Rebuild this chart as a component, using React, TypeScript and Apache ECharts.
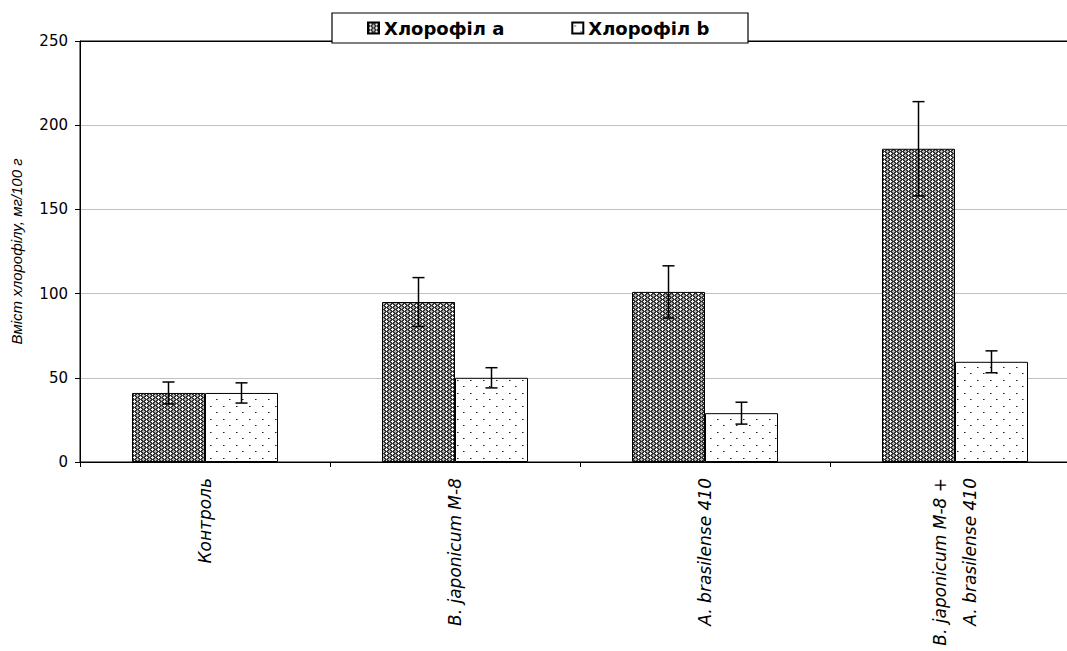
import React, { useEffect, useRef } from 'react';
import * as echarts from 'echarts';

const categories = [
  'Контроль',
  'B. japonicum M-8',
  'A. brasilense 410',
  'B. japonicum M-8 +\nA. brasilense 410',
];
const seriesNames = ['Хлорофіл а', 'Хлорофіл b'];
const chlA = [41, 95, 101, 186];
const chlB = [41, 50, 29, 59.5];
const errA = [6.5, 14.5, 15.5, 28];
const errB = [6, 6, 6.5, 6.5];
const yAxisName = 'Вміст хлорофілу, мг/100 г';

const BAR_FRAC = 0.292;

function makePatternA(): HTMLCanvasElement {
  const c = document.createElement('canvas');
  c.width = 6;
  c.height = 4;
  const g = c.getContext('2d')!;
  g.fillStyle = '#333333';
  g.fillRect(0, 0, 6, 4);
  g.fillStyle = '#f4f4f4';
  [[2, 0], [1, 1], [2, 1], [3, 1], [2, 2]].forEach(([x, y]) => g.fillRect(x, y, 1, 1));
  g.fillStyle = '#b8b8b8';
  [[5, 2], [4, 3], [5, 3], [0, 3], [5, 0]].forEach(([x, y]) => g.fillRect(x, y, 1, 1));
  return c;
}

function makePatternB(): HTMLCanvasElement {
  const c = document.createElement('canvas');
  c.width = 13;
  c.height = 13;
  const g = c.getContext('2d')!;
  g.fillStyle = '#ffffff';
  g.fillRect(0, 0, 13, 13);
  g.fillStyle = '#222222';
  g.fillRect(2, 3, 1, 1);
  g.fillRect(8, 9, 1, 1);
  g.fillStyle = '#888888';
  g.fillRect(3, 3, 1, 1);
  g.fillRect(9, 9, 1, 1);
  return c;
}

export default function App() {
  const ref = useRef<HTMLDivElement>(null);

  useEffect(() => {
    if (!ref.current) return;
    const chart = echarts.init(ref.current, null, { renderer: 'svg' });
    const pa = makePatternA();
    const pb = makePatternB();
    const colorA: any = { image: pa, repeat: 'repeat', imageWidth: 6, imageHeight: 4 };
    const colorB: any = { image: pb, repeat: 'repeat', imageWidth: 13, imageHeight: 13 };

    const errData: number[][] = [];
    chlA.forEach((v, i) => errData.push([i, v - errA[i], v + errA[i], 0]));
    chlB.forEach((v, i) => errData.push([i, v - errB[i], v + errB[i], 1]));

    const option: any = {
      animation: false,
      backgroundColor: '#ffffff',
      grid: {
        left: 80,
        top: 41,
        width: 1000,
        height: 421,
        outerBoundsMode: 'none',
        containLabel: false,
        show: true,
        borderColor: '#000',
        borderWidth: 1,
        backgroundColor: 'transparent',
      },
      graphic: [
        {
          type: 'rect',
          z: 3,
          shape: { x: 332, y: 13, width: 416, height: 30 },
          style: { fill: '#ffffff', stroke: '#000000', lineWidth: 1.2 },
        },
      ],
      legend: {
        data: seriesNames,
        left: 367,
        top: 19,
        z: 5,
        padding: 0,
        icon: 'rect',
        itemWidth: 11,
        itemHeight: 11,
        itemGap: 67,
        textStyle: {
          fontFamily: 'DejaVu Sans',
          fontWeight: 'bold',
          fontSize: 18,
          color: '#000',
        },
      },
      xAxis: {
        type: 'category',
        data: categories,
        axisLine: { lineStyle: { color: '#000', width: 1 } },
        axisTick: { show: true, length: 5, lineStyle: { color: '#000' } },
        axisLabel: {
          rotate: 90,
          margin: 16,
          color: '#000',
          fontFamily: 'DejaVu Sans',
          fontStyle: 'italic',
          fontSize: 17,
          lineHeight: 30,
          interval: 0,
        },
        splitLine: { show: false },
      },
      yAxis: {
        type: 'value',
        min: 0,
        max: 250,
        interval: 50,
        name: yAxisName,
        nameLocation: 'middle',
        nameGap: 56,
        nameTextStyle: {
          fontFamily: 'Liberation Sans',
          fontStyle: 'italic',
          fontSize: 15,
          color: '#000',
        },
        axisLine: { show: true, lineStyle: { color: '#000', width: 1 } },
        axisTick: { show: true, length: 5, lineStyle: { color: '#000' } },
        axisLabel: {
          margin: 12,
          color: '#000',
          fontFamily: 'DejaVu Sans',
          fontSize: 15,
        },
        splitLine: {
          show: true,
          lineStyle: {
            color: ['#c0c0c0', '#c0c0c0', '#c0c0c0', '#c0c0c0', '#c0c0c0', '#000000'],
            width: 1,
          },
        },
      },
      series: [
        {
          name: seriesNames[0],
          type: 'bar',
          data: chlA,
          barWidth: BAR_FRAC * 100 + '%',
          barGap: '0%',
          itemStyle: { color: colorA, borderColor: '#000', borderWidth: 1 },
        },
        {
          name: seriesNames[1],
          type: 'bar',
          data: chlB,
          barWidth: BAR_FRAC * 100 + '%',
          barGap: '0%',
          itemStyle: { color: colorB, borderColor: '#000', borderWidth: 1 },
        },
        {
          name: 'err',
          type: 'custom',
          z: 10,
          data: errData,
          encode: { x: 0, y: [1, 2] },
          renderItem: (params: any, api: any) => {
            const ci = api.value(0);
            const lo = api.value(1);
            const hi = api.value(2);
            const s = api.value(3);
            const catW = api.size([1, 0])[0];
            const bw = catW * BAR_FRAC;
            const cx = api.coord([ci, 0])[0] + (s === 0 ? -bw / 2 : bw / 2);
            const yl = api.coord([ci, lo])[1];
            const yh = api.coord([ci, hi])[1];
            const cap = 6;
            const style = { stroke: '#000', lineWidth: 1.5 };
            return {
              type: 'group',
              children: [
                { type: 'line', shape: { x1: cx, y1: yh, x2: cx, y2: yl }, style },
                { type: 'line', shape: { x1: cx - cap, y1: yh, x2: cx + cap, y2: yh }, style },
                { type: 'line', shape: { x1: cx - cap, y1: yl, x2: cx + cap, y2: yl }, style },
              ],
            };
          },
        },
      ],
    };
    chart.setOption(option);
    return () => chart.dispose();
  }, []);

  return (
    <div
      ref={ref}
      style={{ position: 'fixed', left: 0, top: 0, width: 1067, height: 651, background: '#fff' }}
    />
  );
}
